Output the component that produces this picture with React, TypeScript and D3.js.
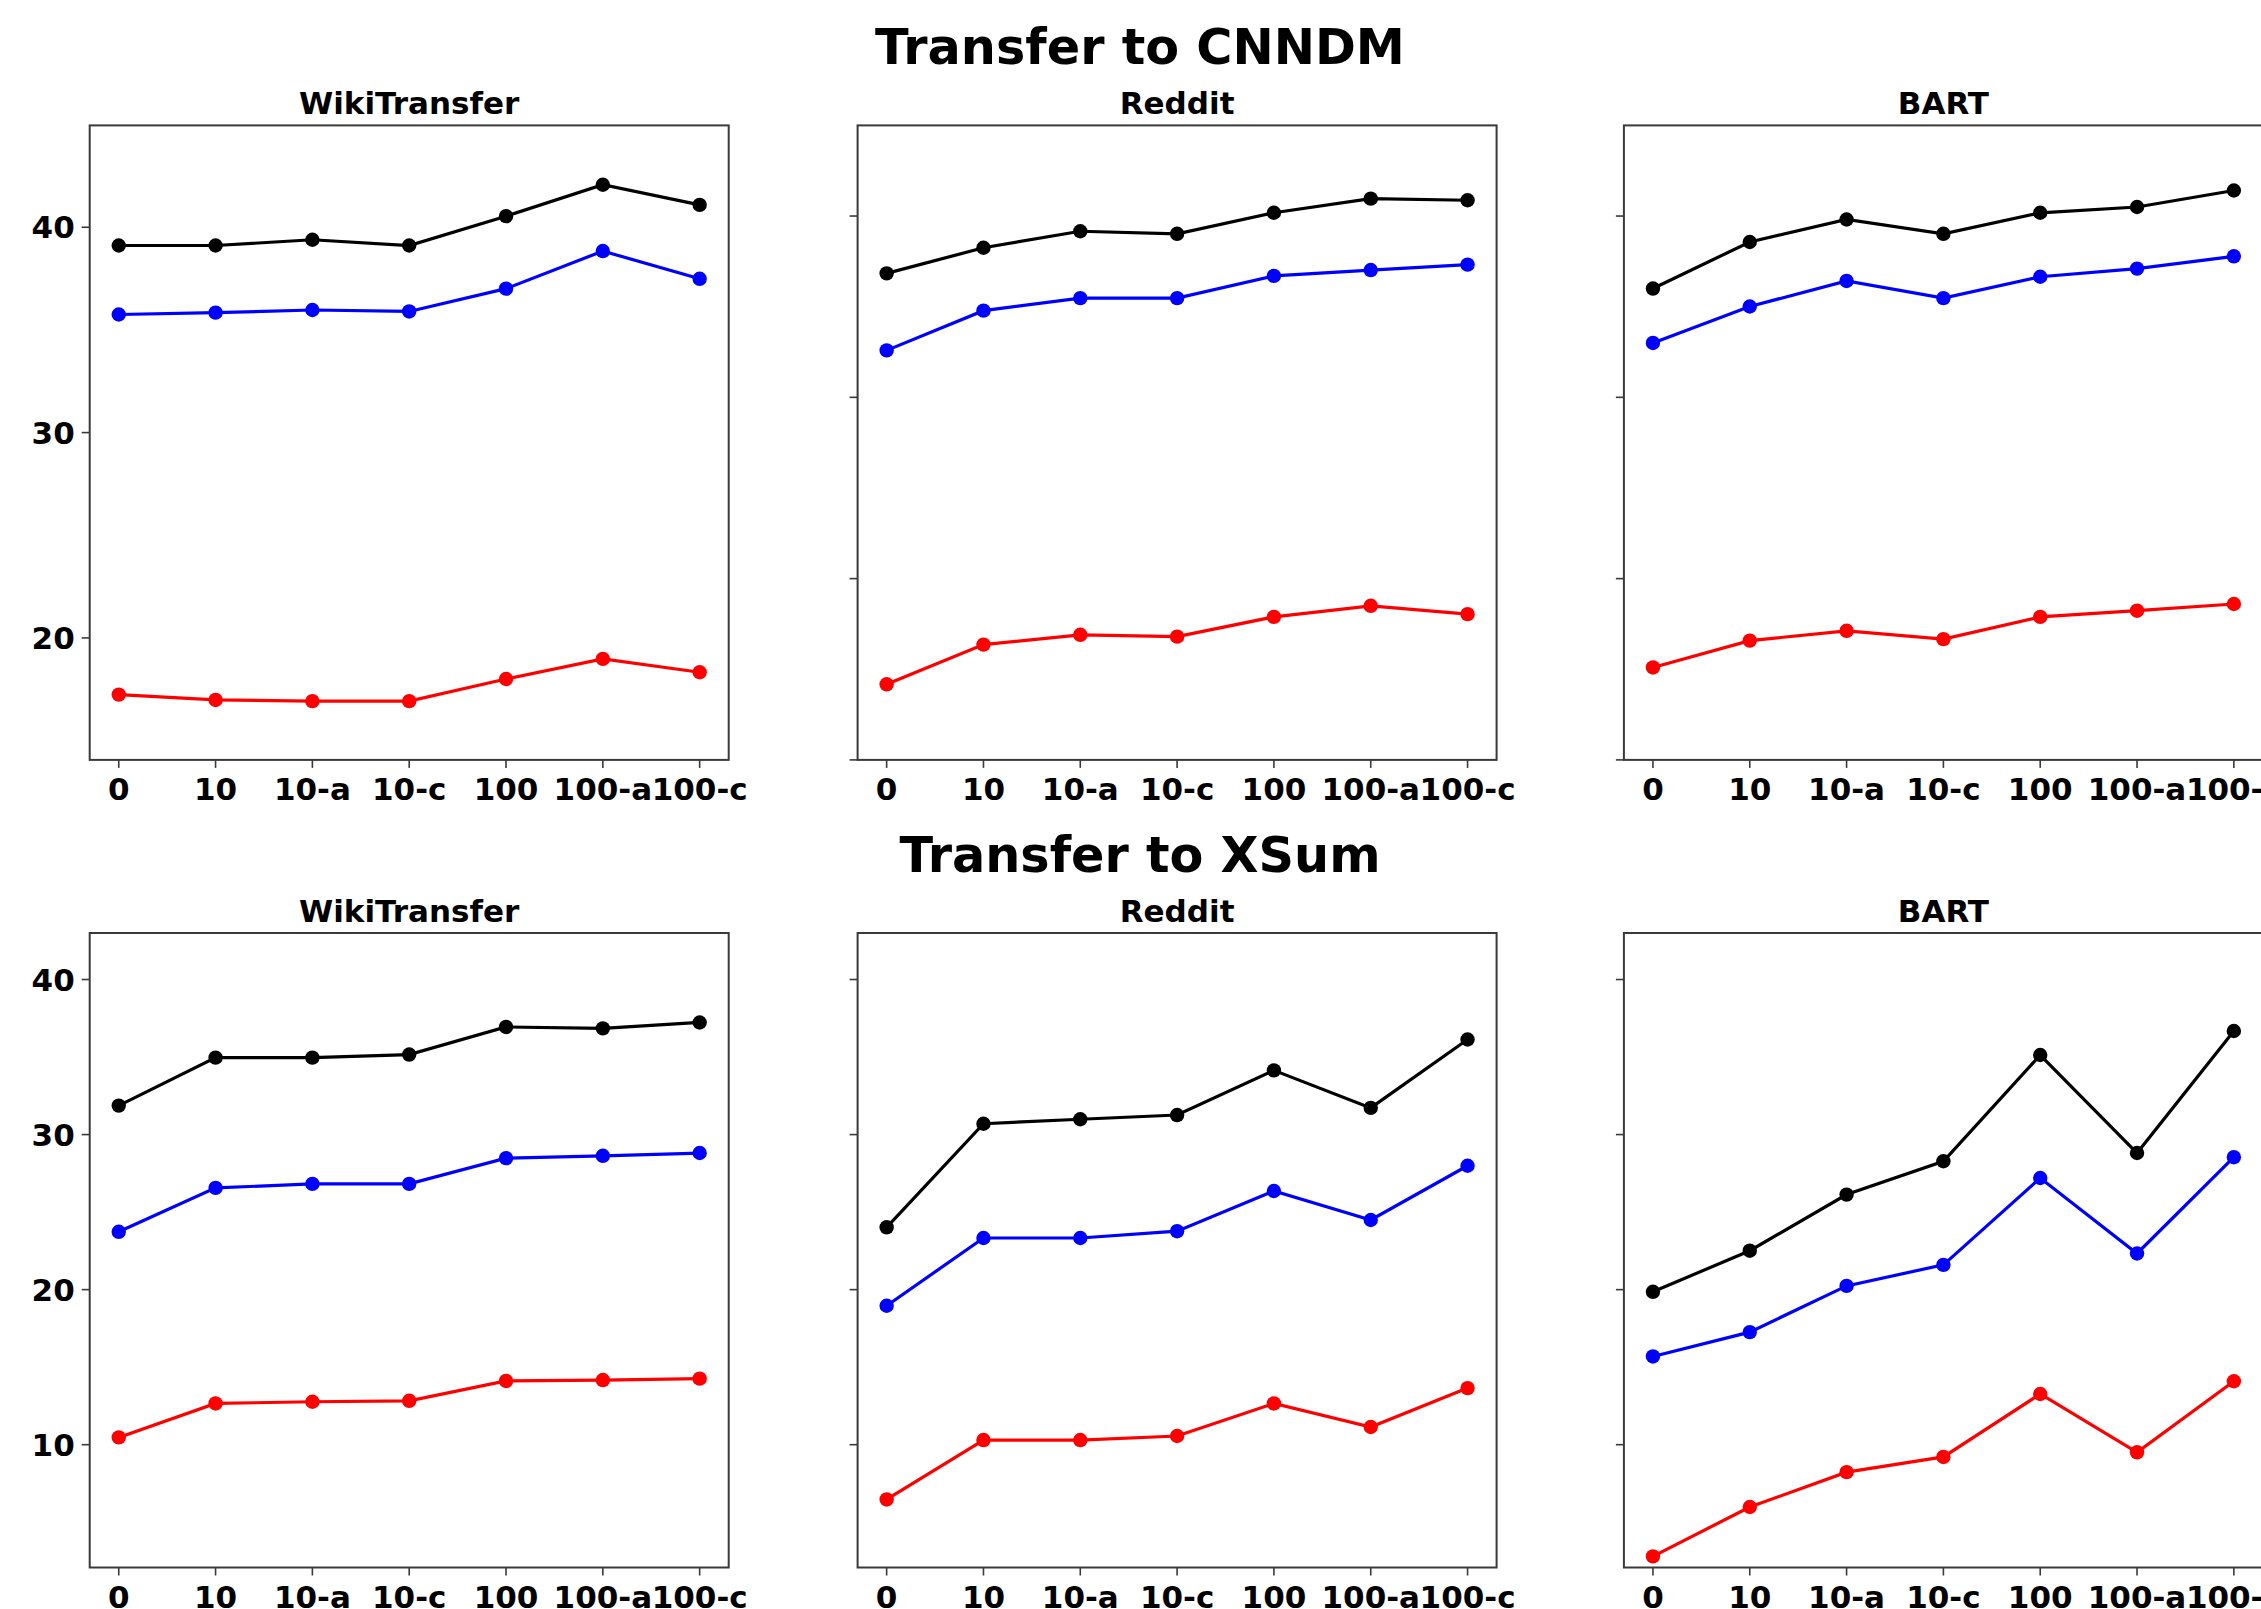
import React from "react";
import * as d3 from "d3";

// x categories (number of target examples / augmentation)
const xLabels = ["0", "10", "10-a", "10-c", "100", "100-a", "100-c"];
const colTitles = ["WikiTransfer", "Reddit", "BART"];
const rowTitles = ["Transfer to CNNDM", "Transfer to XSum"];
const lineColors = ["#000000", "#0000ff", "#ff0000"];

// Transfer to CNNDM  (R1 / RL / R2)
const cnndmWikiR1 = [39.11, 39.11, 39.39, 39.11, 40.54, 42.07, 41.09];
const cnndmWikiRL = [35.75, 35.84, 35.97, 35.9, 37.01, 38.84, 37.49];
const cnndmWikiR2 = [17.24, 16.98, 16.92, 16.92, 18.0, 18.98, 18.33];
const cnndmRedditR1 = [36.84, 38.25, 39.16, 39.02, 40.18, 40.96, 40.87];
const cnndmRedditRL = [32.59, 34.78, 35.47, 35.47, 36.7, 37.02, 37.32];
const cnndmRedditR2 = [14.17, 16.36, 16.9, 16.8, 17.89, 18.5, 18.04];
const cnndmBartR1 = [36.0, 38.57, 39.81, 39.02, 40.18, 40.5, 41.41];
const cnndmBartRL = [33.0, 35.01, 36.42, 35.47, 36.65, 37.1, 37.78];
const cnndmBartR2 = [15.1, 16.58, 17.12, 16.66, 17.89, 18.23, 18.6];

// Transfer to XSum
const xsumWikiR1 = [31.87, 34.96, 34.96, 35.16, 36.94, 36.85, 37.23];
const xsumWikiRL = [23.73, 26.56, 26.82, 26.82, 28.48, 28.63, 28.81];
const xsumWikiR2 = [10.47, 12.66, 12.77, 12.83, 14.11, 14.17, 14.26];
const xsumRedditR1 = [24.02, 30.7, 30.99, 31.26, 34.14, 31.72, 36.13];
const xsumRedditRL = [18.96, 23.33, 23.33, 23.77, 26.36, 24.49, 27.99];
const xsumRedditR2 = [6.47, 10.3, 10.3, 10.56, 12.66, 11.14, 13.65];
const xsumBartR1 = [19.86, 22.51, 26.13, 28.28, 35.13, 28.81, 36.68];
const xsumBartRL = [15.69, 17.26, 20.24, 21.6, 27.2, 22.33, 28.54];
const xsumBartR2 = [2.8, 5.98, 8.23, 9.21, 13.27, 9.51, 14.09];

const panels = [
  [
    { series: [cnndmWikiR1, cnndmWikiRL, cnndmWikiR2], ylim: [14.06, 44.96], ticks: [20, 30, 40], labels: true },
    { series: [cnndmRedditR1, cnndmRedditRL, cnndmRedditR2], ylim: [10, 45], ticks: [10, 20, 30, 40], labels: false },
    { series: [cnndmBartR1, cnndmBartRL, cnndmBartR2], ylim: [10, 45], ticks: [10, 20, 30, 40], labels: false },
  ],
  [
    { series: [xsumWikiR1, xsumWikiRL, xsumWikiR2], ylim: [2.08, 43.0], ticks: [10, 20, 30, 40], labels: true },
    { series: [xsumRedditR1, xsumRedditRL, xsumRedditR2], ylim: [2.08, 43.0], ticks: [10, 20, 30, 40], labels: false },
    { series: [xsumBartR1, xsumBartRL, xsumBartR2], ylim: [2.08, 43.0], ticks: [10, 20, 30, 40], labels: false },
  ],
];

const W = 2261;
const H = 1609;
const colLeft = [89.7, 857.6, 1623.9];
const rowTop = [125.4, 933];
const pw = 639;
const ph = 634.5;
const font = "'DejaVu Sans', sans-serif";
const spine = "#3a3a3a";

function Panel({ cfg, title, x0, y0 }) {
  const x = d3.scaleLinear().domain([-0.3, 6.3]).range([0, pw]);
  const y = d3.scaleLinear().domain(cfg.ylim).range([ph, 0]);
  const line = d3
    .line<number>()
    .x((d, i) => x(i))
    .y((d) => y(d));

  return (
    <g transform={`translate(${x0},${y0})`}>
      <text x={pw / 2} y={-11} textAnchor="middle" fontSize={31} fontWeight="bold" fontFamily={font}>
        {title}
      </text>
      {cfg.series.map((s, k) => (
        <g key={k}>
          <path d={line(s) || ""} fill="none" stroke={lineColors[k]} strokeWidth={3.2} />
          {s.map((v, i) => (
            <circle key={i} cx={x(i)} cy={y(v)} r={7.2} fill={lineColors[k]} />
          ))}
        </g>
      ))}
      <rect x={0} y={0} width={pw} height={ph} fill="none" stroke={spine} strokeWidth={2} />
      {xLabels.map((lab, i) => (
        <g key={lab} transform={`translate(${x(i)},${ph})`}>
          <line y1={0} y2={8} stroke={spine} strokeWidth={1.6} />
          <text y={40} textAnchor="middle" fontSize={31} fontWeight="bold" fontFamily={font}>
            {lab}
          </text>
        </g>
      ))}
      {cfg.ticks.map((t) => (
        <g key={t} transform={`translate(0,${y(t)})`}>
          <line x1={0} x2={-8} stroke={spine} strokeWidth={1.6} />
          {cfg.labels && (
            <text x={-15} dy="0.36em" textAnchor="end" fontSize={31} fontWeight="bold" fontFamily={font}>
              {t}
            </text>
          )}
        </g>
      ))}
    </g>
  );
}

export default function App() {
  return (
    <div style={{ position: "absolute", left: 0, top: 0 }}>
      <svg width={W} height={H} style={{ display: "block", background: "#fff" }}>
        {rowTitles.map((rt, r) => (
          <g key={rt}>
            <text
              x={1140}
              y={64.3 + (rowTop[r] - rowTop[0])}
              textAnchor="middle"
              fontSize={49.3}
              fontWeight="bold"
              fontFamily={font}
            >
              {rt}
            </text>
            {panels[r].map((cfg, c) => (
              <Panel key={c} cfg={cfg} title={colTitles[c]} x0={colLeft[c]} y0={rowTop[r]} />
            ))}
          </g>
        ))}
      </svg>
    </div>
  );
}
